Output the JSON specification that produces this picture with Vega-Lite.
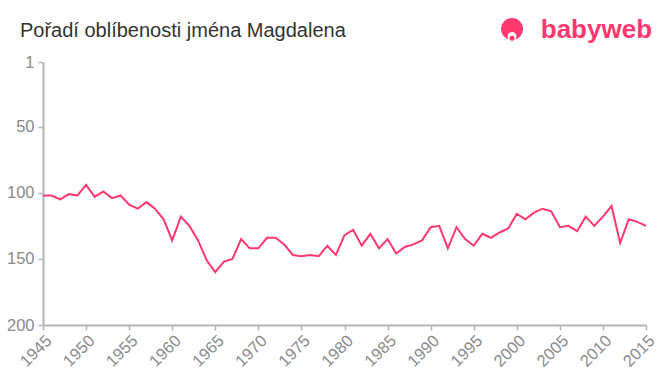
{
  "$schema": "https://vega.github.io/schema/vega-lite/v6.json",
  "autosize": {"type": "none"},
  "width": 603,
  "height": 263,
  "padding": {"left": 43, "top": 62, "right": 14, "bottom": 50},
  "background": "white",
  "config": {
    "view": {"stroke": null},
    "font": "Liberation Sans",
    "axis": {
      "grid": false,
      "domainColor": "#b4b4b4",
      "domainWidth": 2,
      "tickColor": "#b4b4b4",
      "tickSize": 5,
      "tickWidth": 1.5,
      "labelColor": "#8a8a8a",
      "labelFont": "Liberation Sans",
      "labelFontSize": 16.5,
      "title": null
    }
  },
  "title": {
    "text": "Pořadí oblíbenosti jména Magdalena",
    "anchor": "start",
    "frame": "group",
    "dx": -23,
    "offset": 0,
    "dy": 40,
    "baseline": "alphabetic",
    "font": "Liberation Sans",
    "fontSize": 20,
    "fontWeight": "normal",
    "color": "#333333"
  },
  "datasets": {
    "ranks": [
      {"year": 1945, "rank": 102}, {"year": 1946, "rank": 102}, {"year": 1947, "rank": 105},
      {"year": 1948, "rank": 101}, {"year": 1949, "rank": 102}, {"year": 1950, "rank": 94},
      {"year": 1951, "rank": 103}, {"year": 1952, "rank": 99}, {"year": 1953, "rank": 104},
      {"year": 1954, "rank": 102}, {"year": 1955, "rank": 109}, {"year": 1956, "rank": 112},
      {"year": 1957, "rank": 107}, {"year": 1958, "rank": 112}, {"year": 1959, "rank": 120},
      {"year": 1960, "rank": 136}, {"year": 1961, "rank": 118}, {"year": 1962, "rank": 125},
      {"year": 1963, "rank": 136}, {"year": 1964, "rank": 151}, {"year": 1965, "rank": 160},
      {"year": 1966, "rank": 152}, {"year": 1967, "rank": 150}, {"year": 1968, "rank": 135},
      {"year": 1969, "rank": 142}, {"year": 1970, "rank": 142}, {"year": 1971, "rank": 134},
      {"year": 1972, "rank": 134}, {"year": 1973, "rank": 139}, {"year": 1974, "rank": 147},
      {"year": 1975, "rank": 148}, {"year": 1976, "rank": 147}, {"year": 1977, "rank": 148},
      {"year": 1978, "rank": 140}, {"year": 1979, "rank": 147}, {"year": 1980, "rank": 132},
      {"year": 1981, "rank": 128}, {"year": 1982, "rank": 140}, {"year": 1983, "rank": 131},
      {"year": 1984, "rank": 142}, {"year": 1985, "rank": 135}, {"year": 1986, "rank": 146},
      {"year": 1987, "rank": 141}, {"year": 1988, "rank": 139}, {"year": 1989, "rank": 136},
      {"year": 1990, "rank": 126}, {"year": 1991, "rank": 125}, {"year": 1992, "rank": 142},
      {"year": 1993, "rank": 126}, {"year": 1994, "rank": 135}, {"year": 1995, "rank": 140},
      {"year": 1996, "rank": 131}, {"year": 1997, "rank": 134}, {"year": 1998, "rank": 130},
      {"year": 1999, "rank": 127}, {"year": 2000, "rank": 116}, {"year": 2001, "rank": 120},
      {"year": 2002, "rank": 115}, {"year": 2003, "rank": 112}, {"year": 2004, "rank": 114},
      {"year": 2005, "rank": 126}, {"year": 2006, "rank": 125}, {"year": 2007, "rank": 129},
      {"year": 2008, "rank": 118}, {"year": 2009, "rank": 125}, {"year": 2010, "rank": 118},
      {"year": 2011, "rank": 110}, {"year": 2012, "rank": 138}, {"year": 2013, "rank": 120},
      {"year": 2014, "rank": 122}, {"year": 2015, "rank": 125}
    ],
    "logo": [{"label": "babyweb", "year": 2015.7, "rank": -17.2}],
    "icon": [
      {"part": "head", "year": 1999.45, "rank": -24, "size": 480, "color": "#ff3870"},
      {"part": "face", "year": 1999.45, "rank": -18.3, "size": 80, "color": "#ffffff"},
      {"part": "mouth", "year": 1999.45, "rank": -17.0, "size": 25, "color": "#ff3870"}
    ]
  },
  "layer": [
    {
      "data": {"name": "ranks"},
      "mark": {"type": "line", "color": "#ff3870", "strokeWidth": 2, "clip": false},
      "encoding": {
        "x": {
          "field": "year", "type": "quantitative",
          "scale": {"domain": [1945, 2015], "nice": false, "zero": false},
          "axis": {"values": [1945,1950,1955,1960,1965,1970,1975,1980,1985,1990,1995,2000,2005,2010,2015], "format": "d", "labelAngle": -45, "labelOverlap": false, "labelFlush": false}
        },
        "y": {
          "field": "rank", "type": "quantitative",
          "scale": {"domain": [1, 200], "reverse": true, "nice": false, "zero": false},
          "axis": {"values": [1, 50, 100, 150, 200], "labelOverlap": false, "labelFlush": false, "labelPadding": 4}
        }
      }
    },
    {
      "data": {"name": "logo"},
      "mark": {"type": "text", "align": "right", "baseline": "alphabetic", "color": "#ff3870", "fontSize": 26, "font": "Liberation Sans", "fontWeight": "bold", "clip": false},
      "encoding": {
        "x": {"field": "year", "type": "quantitative"},
        "y": {"field": "rank", "type": "quantitative"},
        "text": {"field": "label"}
      }
    },
    {
      "data": {"name": "icon"},
      "mark": {"type": "point", "filled": true, "opacity": 1, "clip": false},
      "encoding": {
        "x": {"field": "year", "type": "quantitative"},
        "y": {"field": "rank", "type": "quantitative"},
        "size": {"field": "size", "type": "quantitative", "scale": null},
        "color": {"field": "color", "type": "nominal", "scale": null},
        "order": {"field": "size", "sort": "descending"}
      }
    }
  ]
}
